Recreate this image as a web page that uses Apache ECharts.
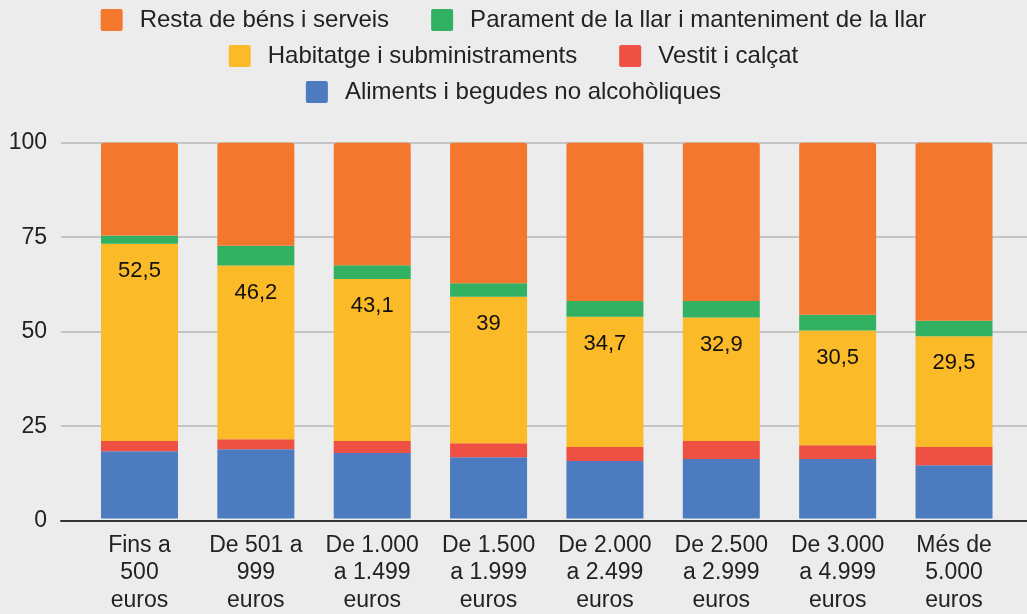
<!DOCTYPE html>
<html>
<head>
<meta charset="utf-8">
<script src="https://cdn.jsdelivr.net/npm/echarts@6/dist/echarts.min.js"></script>
<style>
  html, body { margin: 0; padding: 0; background: #ececec; }
  #chart { width: 1027px; height: 614px; }
</style>
</head>
<body>
<div id="chart"></div>
<script>
const categories = [
  'Fins a\n500\neuros', 'De 501 a\n999\neuros', 'De 1.000\na 1.499\neuros', 'De 1.500\na 1.999\neuros',
  'De 2.000\na 2.499\neuros', 'De 2.500\na 2.999\neuros', 'De 3.000\na 4.999\neuros', 'Més de\n5.000\neuros'
]
const aliments = [17.9, 18.4, 17.4, 16.3, 15.3, 15.8, 15.8, 14.2]
const vestit = [2.7, 2.7, 3.2, 3.7, 3.7, 4.8, 3.7, 4.8]
const habitatge = [52.5, 46.2, 43.1, 39, 34.7, 32.9, 30.5, 29.5]
const parament = [2.2, 5.3, 3.7, 3.6, 4.2, 4.4, 4.2, 4.1]
const resta = [24.7, 27.4, 32.6, 37.4, 42.1, 42.1, 45.8, 47.4]
const yTicks = [0, 25, 50, 75, 100]

const myChart = echarts.init(document.querySelector('#chart'))
const font = '"Liberation Sans", Arial, sans-serif'
const square = 'path://M2,0H20A2,2 0 0 1 22,2V20A2,2 0 0 1 20,22H2A2,2 0 0 1 0,20V2A2,2 0 0 1 2,0Z'

const legendBase = {
  left: 'center',
  itemWidth: 22,
  itemHeight: 22,
  itemGap: 42,
  icon: square,
  selectedMode: false,
  textStyle: { fontFamily: font, fontSize: 24, color: '#222', padding: [0, 0, 0, 12] }
}

const bar = (name, data, color, extra) => ({
  name,
  type: 'bar',
  stack: 'total',
  xAxisIndex: 1,
  yAxisIndex: 1,
  barWidth: 77,
  itemStyle: { color },
  data,
  ...extra
})

myChart.setOption({
  backgroundColor: '#ececec',
  animation: false,
  legend: [
    { ...legendBase, top: 3, data: ['Resta de béns i serveis', 'Parament de la llar i manteniment de la llar'] },
    { ...legendBase, top: 39, data: ['Habitatge i subministraments', 'Vestit i calçat'] },
    { ...legendBase, top: 75, data: ['Aliments i begudes no alcohòliques'] }
  ],
  grid: [
    { left: 61, right: 0, top: 142.7, bottom: 93.3 },
    { left: 81.3, right: 14.8, top: 142.7, bottom: 93.3 }
  ],
  xAxis: [
    {
      type: 'value', gridIndex: 0, min: 0, max: 1,
      axisLine: { show: true, onZero: false, lineStyle: { color: '#333', width: 2 } },
      axisTick: { show: false }, axisLabel: { show: false }, splitLine: { show: false }
    },
    {
      type: 'category', gridIndex: 1, data: categories,
      axisLine: { show: false }, axisTick: { show: false },
      axisLabel: { fontFamily: font, fontSize: 23, color: '#222', lineHeight: 27.5, margin: 13, interval: 0 }
    }
  ],
  yAxis: [
    {
      type: 'value', gridIndex: 0, min: 0, max: 100, interval: 25,
      axisLine: { show: false }, axisTick: { show: false },
      axisLabel: { fontFamily: font, fontSize: 23, color: '#222', margin: 14,
        formatter: v => yTicks.includes(v) ? String(v) : '' },
      splitLine: { lineStyle: { color: '#c4c4c4', width: 2 } }
    },
    { type: 'value', gridIndex: 1, min: 0, max: 100, show: false, splitLine: { show: false } }
  ],
  series: [
    bar('Aliments i begudes no alcohòliques', aliments, '#4c7bbf'),
    bar('Vestit i calçat', vestit, '#ee5143'),
    bar('Habitatge i subministraments', habitatge, '#fbba27', {
      label: {
        show: true, position: 'insideTop', distance: 16,
        fontFamily: font, fontSize: 22, color: '#111',
        formatter: p => String(p.value).replace('.', ',')
      }
    }),
    bar('Parament de la llar i manteniment de la llar', parament, '#33b163'),
    bar('Resta de béns i serveis', resta, '#f4772e', { itemStyle: { color: '#f4772e', borderRadius: [3, 3, 0, 0] } })
  ]
})
</script>
</body>
</html>
